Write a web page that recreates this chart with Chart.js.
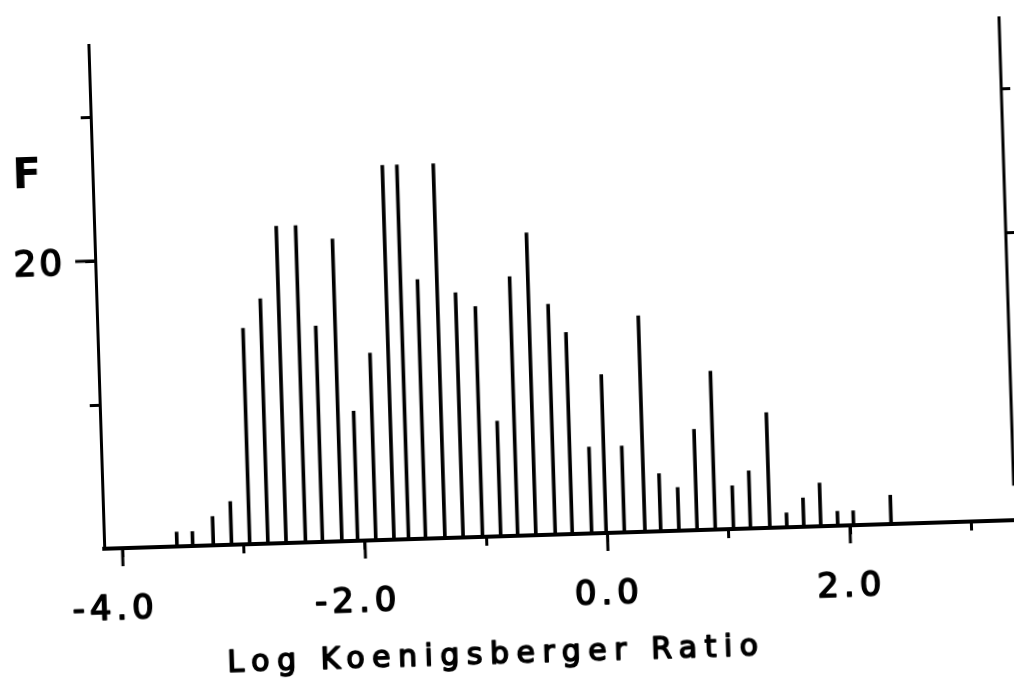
<!DOCTYPE html>
<html>
<head>
<meta charset="utf-8">
<script src="https://cdn.jsdelivr.net/npm/chart.js@4.4.1/dist/chart.umd.min.js"></script>
<style>
  html, body { margin: 0; padding: 0; background: #fff; overflow: hidden; }
  /* the scanned figure sits slightly tilted on the page */
  #wrap {
    position: absolute; left: 0; top: 0; width: 1040px; height: 700px;
    transform-origin: 507px 343.5px; transform: rotate(-1.8deg);
  }
</style>
</head>
<body>
<div id="wrap"><canvas id="chart-kr" width="1040" height="700"></canvas></div>
<script>
/* ── Data ────────────────────────────────────────────────────── */
const binCentres = [
  -3.55, -3.42, -3.25, -3.10, -2.95, -2.80, -2.65, -2.49, -2.35, -2.19,
  -2.06, -1.91, -1.76, -1.64, -1.50, -1.34, -1.19, -1.03, -0.88, -0.74,
  -0.59, -0.43, -0.29, -0.13, -0.01, 0.14, 0.31, 0.44, 0.59, 0.74,
  0.89, 1.04, 1.18, 1.34, 1.48, 1.62, 1.76, 1.90, 2.03, 2.34
];
const counts = [
  1, 1, 2, 3, 15, 17, 22, 22, 15, 21,
  9, 13, 26, 26, 18, 26, 17, 16, 8, 18,
  21, 16, 14, 6, 11, 6, 15, 4, 3, 7,
  11, 3, 4, 8, 1, 2, 3, 1, 1, 2
];
const xTickValues = [-4, -3, -2, -1, 0, 1, 2, 3];
const xLabelValues = [-4, -2, 0, 2];
const xTickLabels = ["-4.0", "-2.0", "0.0", "2.0"];
const yTickValues = [10, 20, 30];
const yLabelValues = [20];
const yTickLabels = ["20"];
const rightTickValues = [20, 30];
const xTitle = "Log Koenigsberger Ratio";
const yTitle = "F";

const INK = "#000";
const FONT = "'DejaVu Sans', sans-serif";

function keepTicks(values) {
  return scale => { scale.ticks = values.map(v => ({ value: v })); };
}

// plotter lettering: regular face with a thickened outline
function inkText(ctx, t, px, py) {
  ctx.fillText(t, px, py);
  ctx.strokeText(t, px, py);
}

/* ── Text, long ticks and the cut-off right frame ────────────── */
const inkPlugin = {
  id: "ink",
  afterDraw(chart) {
    const { ctx, chartArea: area } = chart;
    const x = chart.scales.x, y = chart.scales.y, y2 = chart.scales.y2;
    ctx.save();
    ctx.strokeStyle = INK;
    ctx.fillStyle = INK;
    ctx.lineWidth = 3;

    // labelled ticks are drawn longer
    xLabelValues.forEach(v => {
      const px = x.getPixelForValue(v);
      ctx.beginPath(); ctx.moveTo(px, area.bottom); ctx.lineTo(px, area.bottom + 18); ctx.stroke();
    });
    yLabelValues.forEach(v => {
      const py = y.getPixelForValue(v);
      ctx.beginPath(); ctx.moveTo(area.left, py); ctx.lineTo(area.left - 20, py); ctx.stroke();
    });

    // right frame stops short of the baseline
    ctx.beginPath();
    ctx.moveTo(area.right, y2.getPixelForValue(35));
    ctx.lineTo(area.right, y2.getPixelForValue(2.4));
    ctx.stroke();

    // tick labels
    ctx.lineWidth = 1.6;
    ctx.lineJoin = "round";
    ctx.font = "34px " + FONT;
    ctx.letterSpacing = "5px";
    ctx.textAlign = "center";
    ctx.textBaseline = "alphabetic";
    xTickLabels.forEach((t, i) => {
      let px = x.getPixelForValue(xLabelValues[i]);
      if (t[0] === "-") px -= ctx.measureText("-").width / 2;
      inkText(ctx, t, px, area.bottom + 71);
    });

    ctx.font = "36px " + FONT;
    ctx.letterSpacing = "3px";
    ctx.textAlign = "right";
    yTickLabels.forEach((t, i) => {
      const py = y.getPixelForValue(yLabelValues[i]);
      inkText(ctx, t, area.left - 30, py + 13);
    });

    // axis titles
    ctx.font = "bold 42px " + FONT;
    ctx.letterSpacing = "0px";
    ctx.textAlign = "left";
    ctx.fillText(yTitle, area.left - 80, y.getPixelForValue(25.2));

    ctx.font = "30px " + FONT;
    ctx.letterSpacing = "7.5px";
    ctx.textAlign = "center";
    const cx = (x.getPixelForValue(-4) + x.getPixelForValue(3)) / 2 - 54;
    inkText(ctx, xTitle, cx, area.bottom + 127);
    ctx.restore();
  }
};

new Chart(document.getElementById("chart-kr"), {
  type: "bar",
  data: {
    datasets: [{
      data: binCentres.map((v, i) => ({ x: v, y: counts[i] })),
      backgroundColor: INK,
      borderWidth: 0,
      barThickness: 3,
    }]
  },
  options: {
    responsive: false,
    animation: false,
    layout: { padding: { left: 88, right: 22, top: 32, bottom: 155 } },
    plugins: { legend: { display: false }, tooltip: { enabled: false } },
    scales: {
      x: {
        type: "linear",
        min: -4.15, max: 3.36,
        offset: false,
        afterBuildTicks: keepTicks(xTickValues),
        ticks: { display: false },
        border: { display: true, color: INK, width: 4 },
        grid: { offset: false, drawOnChartArea: false, color: INK, lineWidth: 3, tickLength: 9 },
      },
      y: {
        position: "left",
        min: 0, max: 35,
        afterBuildTicks: keepTicks(yTickValues),
        ticks: { display: false },
        border: { display: true, color: INK, width: 3 },
        grid: { drawOnChartArea: false, color: INK, lineWidth: 3, tickLength: 10 },
      },
      y2: {
        position: "right",
        min: 0, max: 35,
        afterBuildTicks: keepTicks(rightTickValues),
        ticks: { display: false },
        border: { display: false },
        grid: { drawOnChartArea: false, color: INK, lineWidth: 3, tickLength: 9 },
      }
    }
  },
  plugins: [inkPlugin]
});
</script>
</body>
</html>
